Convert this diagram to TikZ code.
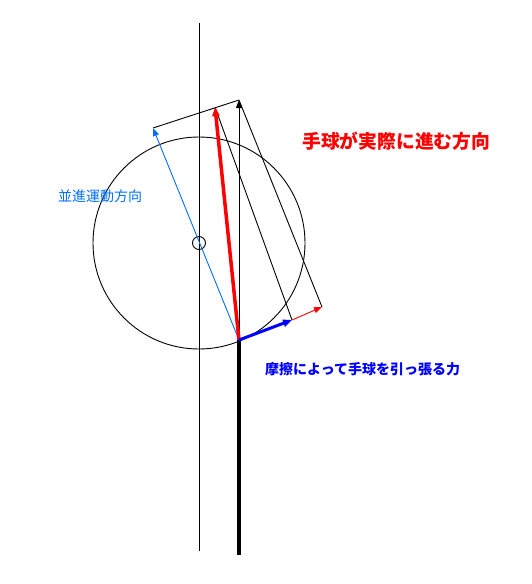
\documentclass[tikz,border=0pt]{standalone}
\usepackage{fontspec}
\newfontfamily\jp{Noto Sans CJK JP}
\usetikzlibrary{arrows.meta}
\definecolor{skyb}{RGB}{0,110,255}
\tikzset{
  thin1/.style={line width=0.9pt},
  tipA/.style={-{Triangle[length=8pt,width=6pt]}},
  tipB/.style={-{Triangle[length=9pt,width=7pt]}},
  lbl/.style={font=\jp, inner sep=0pt, anchor=west}
}
\begin{document}
\begin{tikzpicture}[x=1pt,y=-1pt]
\useasboundingbox (0,0) rectangle (532,584);
% points
\coordinate (P) at (239,340);
\coordinate (Pend) at (239,555);
\coordinate (Vt) at (199.5,23);
\coordinate (Vb) at (199.5,551);
\coordinate (C) at (199,243);
\coordinate (K) at (239,100);   % black tip
\coordinate (R) at (215,107);   % red tip
\coordinate (T) at (153,128);   % translational tip
\coordinate (F) at (292,320);   % friction tip
\coordinate (E) at (322,307);   % red thin tip
% axis line
\draw[thin1] (Vt) -- (Vb);
% circles
\draw[thin1] (C) circle[radius=106];
\draw[thin1] (C) circle[radius=6.5];
% construction lines
\draw[thin1] (T) -- (K);
\draw[thin1] (K) -- (E);
\draw[thin1] (R) -- (F);
% thick stem
\draw[line width=3.5pt] (P) -- (Pend);
% arrows
\draw[thin1, tipA] (P) -- (K);
\draw[thin1, skyb, tipA] (P) -- (T);
\draw[line width=3.5pt, red, tipB] (P) -- (R);
\draw[thin1, red, tipA] (F) -- (E);
\draw[line width=3pt, blue, tipB] (P) -- (F);
% labels
\node[lbl, red, font=\jp\bfseries\fontsize{18.8}{20}\selectfont] (t1) at (302,141) {手球が実際に進む方向};
\node[lbl, skyb, font=\jp\fontsize{14}{16}\selectfont] (t2) at (58,196) {並進運動方向};
\node[lbl, blue, font=\jp\bfseries\fontsize{14}{16}\selectfont] (t3) at (265,369) {摩擦によって手球を引っ張る力};
\end{tikzpicture}
\end{document}
